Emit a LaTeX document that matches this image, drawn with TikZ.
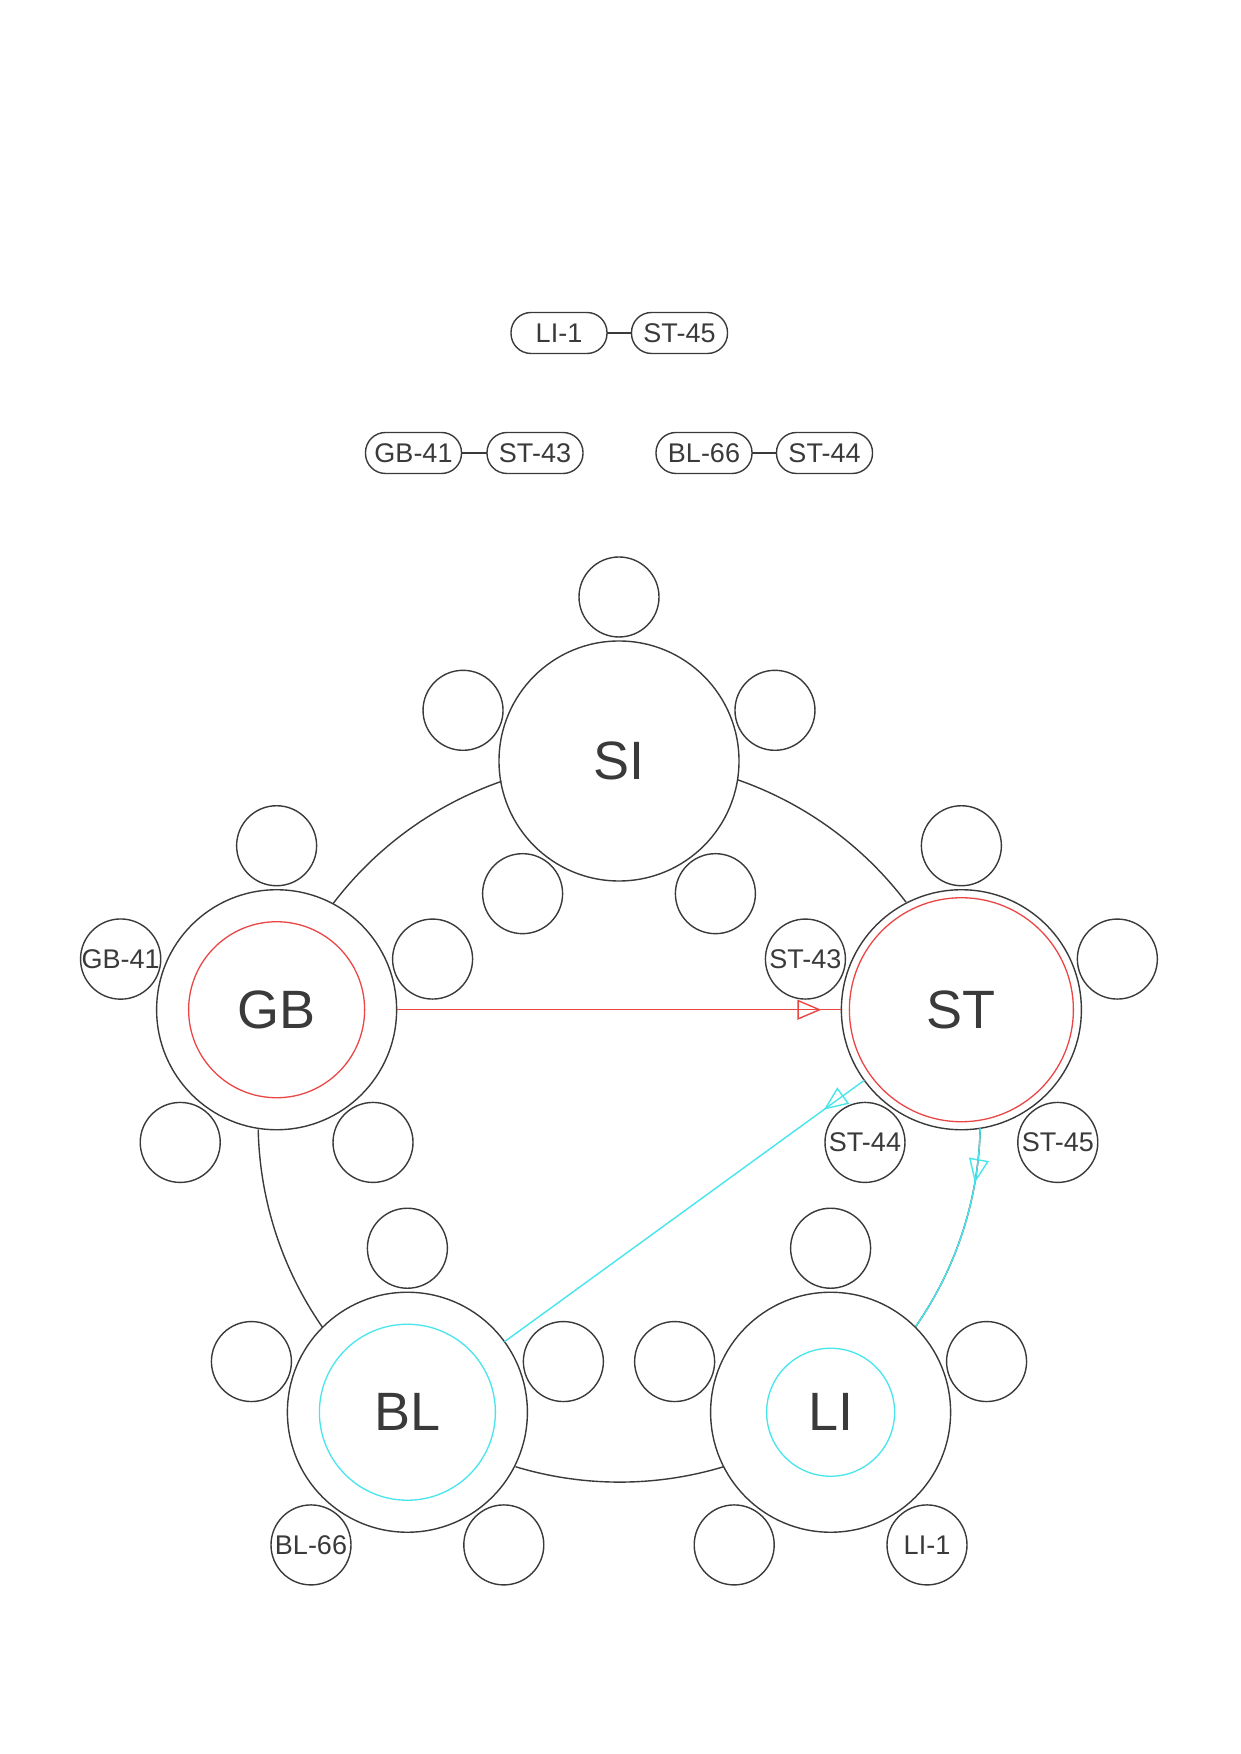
\documentclass[tikz,border=0pt]{standalone}
\usepackage{fontspec}
\setmainfont{Liberation Sans}
\usetikzlibrary{calc}
\usetikzlibrary{arrows.meta}
\usetikzlibrary{decorations.markings}
\definecolor{ink}{HTML}{3A3A3A}
\definecolor{linkred}{HTML}{EB4646}
\definecolor{linkcyan}{HTML}{46E6EC}
\tikzset{
	hub/.style={circle, draw=ink, fill=white, line width=1.4pt, minimum size=240pt, inner sep=0pt, outer sep=0pt, text=ink, font=\fontsize{54}{60}\selectfont},
	seat/.style={circle, draw=ink, fill=white, line width=1.4pt, minimum size=80pt, inner sep=0pt, outer sep=0pt, text=ink, font=\fontsize{27}{30}\selectfont},
	pill/.style={rectangle, draw=ink, line width=1.4pt, rounded corners=20pt, minimum width=96pt, minimum height=41pt, inner sep=0pt, outer sep=0pt, text=ink, font=\fontsize{27}{30}\selectfont},
	wire/.style={draw=ink, line width=1.4pt},
	tipat/.style={postaction={decorate, decoration={markings, mark=at position #1 with {\arrow{Triangle[open, length=24pt, width=20pt]}}}}}
}
\newcommand{\seats}[6] % host node, labels at 90, 18, -54, -126, 162 deg
{
	\node[seat] (#1-n) at ($(#1)+(90:164)$) {#2};
	\node[seat] (#1-ne) at ($(#1)+(18:164)$) {#3};
	\node[seat] (#1-se) at ($(#1)+(-54:164)$) {#4};
	\node[seat] (#1-sw) at ($(#1)+(-126:164)$) {#5};
	\node[seat] (#1-nw) at ($(#1)+(162:164)$) {#6};
}
\begin{document}
\begin{tikzpicture}[x=1pt, y=1pt]
	\useasboundingbox (0,0) rectangle (1240,1754);
	% pairs on top
	\node[pill] (LI1) at (559,1421) {LI-1};
	\node[pill] (ST45) at (679.5,1421) {ST-45};
	\node[pill] (GB41) at (413.5,1301) {GB-41};
	\node[pill] (ST43) at (535,1301) {ST-43};
	\node[pill] (BL66) at (704,1301) {BL-66};
	\node[pill] (ST44) at (824.5,1301) {ST-44};
	\draw[wire] (LI1) -- (ST45);
	\draw[wire] (GB41) -- (ST43);
	\draw[wire] (BL66) -- (ST44);
	
	% ring of five, radius 360
	\coordinate (O) at (619,633);
	\node[hub] (SI) at ($(O)+(90:360)$) {SI};
	\node[hub] (ST) at ($(O)+(18:360)$) {ST};
	\node[hub] (LI) at ($(O)+(-54:360)$) {LI};
	\node[hub] (BL) at ($(O)+(-126:360)$) {BL};
	\node[hub] (GB) at ($(O)+(162:360)$) {GB};
	\draw[linkred, line width=1.3pt] (GB.center) circle[radius=88pt];
	\draw[linkred, line width=1.3pt] (ST.center) circle[radius=112pt];
	\draw[linkcyan, line width=1.3pt] (BL.center) circle[radius=88pt];
	\draw[linkcyan, line width=1.3pt] (LI.center) circle[radius=64pt];
	
	\seats{SI}{}{}{}{}{}
	\seats{ST}{}{}{ST-45}{ST-44}{ST-43}
	\seats{LI}{}{}{LI-1}{}{}
	\seats{BL}{}{}{}{BL-66}{}
	\seats{GB}{}{}{}{}{GB-41}
	
	% ring arcs from border to border
	\foreach \h/\a [evaluate=\a as \s using \a-99.59] in {SI/90, ST/18, LI/-54, BL/-126, GB/162}
		\draw[wire] (\h.\s) arc[start angle=\a-19.19, delta angle=-33.62, radius=360pt];
	
	% links
	\draw[linkred, line width=1.4pt, tipat=-20pt] (GB) -- (ST);
	\draw[linkcyan, line width=1.4pt, tipat=50pt] (ST) -- (BL);
	\draw[linkcyan, line width=1.4pt, tipat=55pt] (ST.-81.59) arc[start angle=-1.19, delta angle=-33.62, radius=360pt];
\end{tikzpicture}
\end{document}
